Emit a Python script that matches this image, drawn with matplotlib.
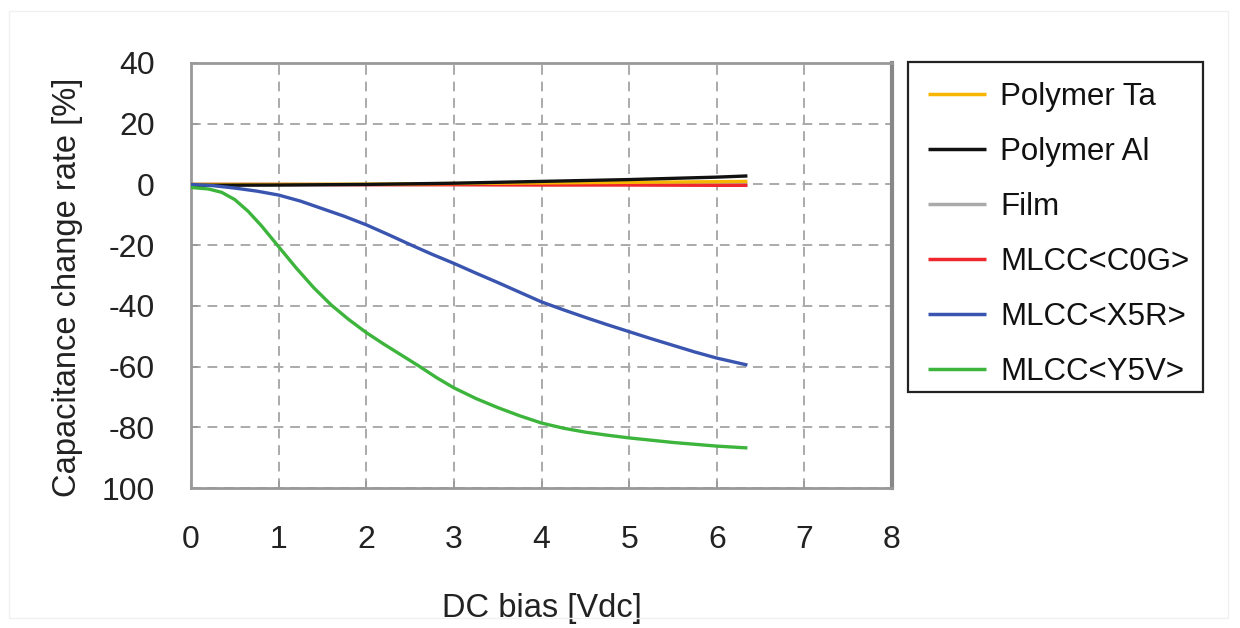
import matplotlib
matplotlib.use("Agg")
import matplotlib.pyplot as plt
from matplotlib.patches import Rectangle

plt.rcParams['font.family'] = ['Liberation Sans', 'DejaVu Sans']

# ---- data ----
series_names = ["Polymer Ta", "Polymer Al", "Film", "MLCC<C0G>", "MLCC<X5R>", "MLCC<Y5V>"]
series_colors = ["#f7b500", "#111111", "#aaaaaa", "#f0282d", "#3a55b0", "#3db53d"]

x_flat = [0, 1, 2, 3, 4, 5, 6, 6.35]
poly_ta = [0, 0, 0.1, 0.3, 0.5, 0.7, 0.9, 1.0]
poly_al = [-0.3, -0.2, 0, 0.4, 1.0, 1.6, 2.4, 2.8]
film = [0, 0, 0, 0, 0, 0, 0, 0]
c0g = [0, 0, -0.1, -0.1, -0.2, -0.2, -0.3, -0.3]

x_x5r = [0, 0.25, 0.5, 0.75, 1.0, 1.25, 1.5, 1.75, 2.0, 2.25, 2.5, 2.75, 3.0, 3.25,
         3.5, 3.75, 4.0, 4.25, 4.5, 4.75, 5.0, 5.25, 5.5, 5.75, 6.0, 6.35]
x5r = [0, -0.4, -1.2, -2.2, -3.5, -5.5, -8, -10.5, -13.3, -16.5, -19.8, -23, -26, -29.2,
       -32.3, -35.5, -38.7, -41.3, -43.8, -46.2, -48.5, -50.8, -53, -55.2, -57.2, -59.5]

x_y5v = [0, 0.2, 0.35, 0.5, 0.65, 0.8, 1.0, 1.2, 1.4, 1.6, 1.8, 2.0, 2.2, 2.4, 2.6, 2.8,
         3.0, 3.25, 3.5, 3.75, 4.0, 4.25, 4.5, 4.75, 5.0, 5.5, 6.0, 6.35]
y5v = [-1, -1.5, -2.6, -5, -8.8, -13.5, -20.5, -27.5, -34, -39.7, -44.5, -48.8, -52.6,
       -56.2, -59.8, -63.6, -67, -70.5, -73.5, -76.2, -78.6, -80.3, -81.6, -82.6, -83.5,
       -85, -86.2, -86.8]

x_ticks = [0, 1, 2, 3, 4, 5, 6, 7, 8]
y_ticks = [40, 20, 0, -20, -40, -60, -80, -100]
y_tick_labels = ["40", "20", "0", "-20", "-40", "-60", "-80", "100"]

# ---- figure ----
fig = plt.figure(figsize=(12.4, 6.28), dpi=100)
fig.patch.set_facecolor("white")
fig.patches.append(Rectangle((9/1240, 1-618/628), (1228-9)/1240, (618-11)/628,
                             transform=fig.transFigure, fill=False,
                             edgecolor="#f0f0f0", linewidth=1.0))

ax = fig.add_axes([191/1240, 1-488/628, (892-191)/1240, (488-63)/628])

lw = 2.4
data = [(x_flat, poly_ta), (x_flat, poly_al), (x_flat, film), (x_flat, c0g), (x_x5r, x5r), (x_y5v, y5v)]
order = [2, 3, 0, 1, 4, 5]
handles = {}
for i in order:
    xs, ys = data[i]
    h, = ax.plot(xs, ys, color=series_colors[i], lw=lw, label=series_names[i],
                 solid_capstyle='butt', solid_joinstyle='round', zorder=3)
    handles[i] = h

ax.set_xlim(0, 8)
ax.set_ylim(-100, 40)
ax.set_xticks(x_ticks)
ax.set_yticks(y_ticks)
ax.set_yticklabels(y_tick_labels)

ax.grid(True, color="#aaaaaa", linestyle=(0, (5, 3.5)), linewidth=1.4)
ax.set_axisbelow(True)
for side, sp in ax.spines.items():
    sp.set_color("#999999")
    sp.set_linewidth(2.0)
ax.spines['right'].set_linewidth(3.0)
ax.spines['right'].set_color("#888888")

ax.tick_params(axis='both', direction='in', length=5, width=1.2, color="#999999",
               labelsize=23, labelcolor="#222222")
ax.tick_params(axis='x', pad=27)
ax.tick_params(axis='y', pad=26)

ax.set_xlabel("DC bias [Vdc]", fontsize=23.5, color="#222222", labelpad=27)
ax.set_ylabel("Capacitance change rate [%]", fontsize=23.5, color="#222222")
ax.yaxis.set_label_coords(-0.154, 0.472)

# legend frame drawn explicitly to match the reference box
fig.patches.append(Rectangle((908/1240, 1-392/628), (1203-908)/1240, (392-62)/628,
                             transform=fig.transFigure, fill=False,
                             edgecolor="#222222", linewidth=1.6, zorder=5))
leg = fig.legend([handles[i] for i in range(6)], series_names,
                 loc='upper left', bbox_to_anchor=(908/1240, 1-62/628),
                 fontsize=22.5, frameon=False,
                 handlelength=1.85, handletextpad=0.45, labelspacing=0.8,
                 borderpad=0.65, borderaxespad=0, labelcolor="#111111")
for line in leg.get_lines():
    line.set_linewidth(2.5)

fig.savefig("out.png", dpi=100, facecolor="white")
